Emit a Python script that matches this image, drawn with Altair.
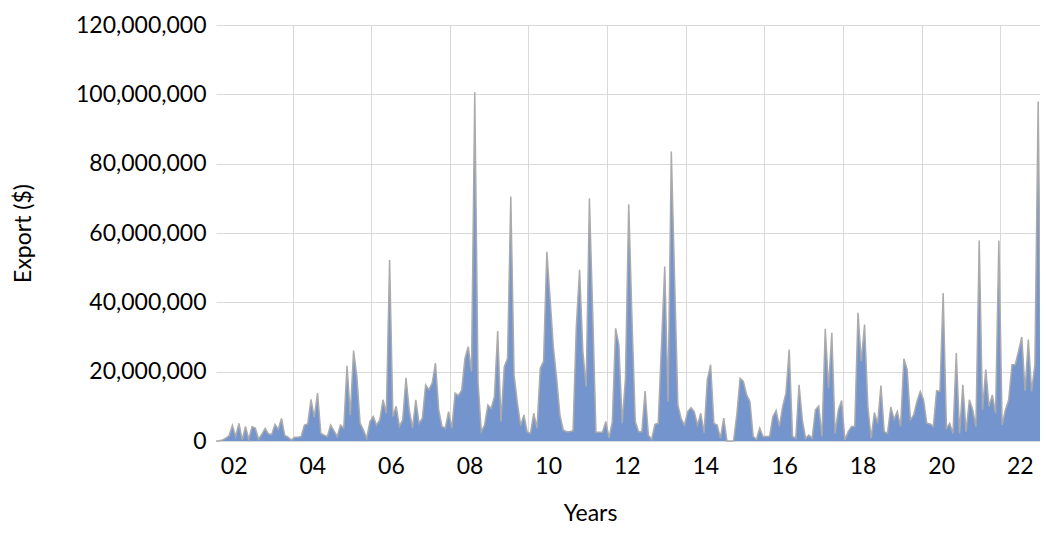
import altair as alt
import pandas as pd

# Monthly export values (millions of $), month index 0..254
export_musd = [
    0.0, 0.1, 0.3, 0.8, 1.5, 4.5, 1.3, 5.1, 0.3, 4.2, 0.5, 4.1, 3.7, 0.5, 2.0, 3.6,
    2.1, 1.9, 4.8, 3.4, 6.5, 1.6, 1.1, 0.3, 1.1, 1.1, 1.3, 4.6, 4.9, 12.0, 6.9, 13.8,
    2.2, 1.7, 1.3, 4.6, 3.0, 1.3, 4.6, 3.7, 21.7, 7.5, 26.1, 18.6, 5.1, 3.2, 0.8, 5.6,
    7.1, 4.6, 6.1, 11.9, 8.0, 52.2, 7.1, 10.0, 4.2, 6.1, 18.2, 9.0, 3.7, 11.9, 5.1, 6.6,
    16.2, 14.8, 16.7, 22.5, 9.0, 4.2, 3.7, 8.5, 3.7, 13.8, 13.1, 14.7, 23.8, 27.2, 20.0, 100.6,
    17.0, 2.7, 4.6, 10.4, 9.4, 12.8, 31.7, 5.6, 21.4, 23.8, 70.5, 19.0, 11.0, 4.5, 7.5, 2.7,
    2.2, 8.0, 3.7, 21.0, 23.0, 54.6, 41.0, 27.0, 18.0, 7.5, 3.2, 2.7, 2.7, 3.0, 33.0, 49.4,
    25.8, 15.7, 70.0, 37.0, 2.5, 2.5, 2.5, 5.6, 1.0, 5.6, 32.5, 27.7, 5.1, 18.0, 68.3, 35.0,
    5.6, 2.7, 2.7, 14.4, 1.7, 0.5, 4.8, 5.1, 27.7, 50.3, 11.4, 83.5, 47.0, 10.4, 6.5, 4.6,
    8.5, 9.6, 8.5, 4.6, 8.0, 2.4, 17.7, 22.0, 5.1, 4.6, 0.8, 6.6, 0.0, 0.0, 0.0, 7.6,
    18.1, 17.2, 13.3, 11.4, 1.3, 0.5, 3.7, 1.3, 1.3, 1.3, 7.0, 8.8, 4.2, 10.0, 13.8, 26.4,
    1.3, 0.8, 16.2, 6.1, 0.8, 1.7, 0.8, 9.0, 10.1, 1.3, 32.4, 15.3, 31.2, 2.2, 9.0, 11.7,
    0.3, 2.7, 4.2, 4.2, 37.0, 23.0, 33.6, 10.0, 0.8, 8.2, 5.1, 16.0, 2.7, 2.2, 9.8, 6.3,
    8.5, 4.2, 23.7, 20.6, 6.1, 7.5, 11.4, 14.3, 11.9, 5.1, 4.9, 4.2, 14.5, 14.3, 42.7, 3.7,
    5.1, 2.2, 25.4, 2.2, 16.2, 2.7, 11.9, 9.0, 4.2, 57.8, 9.0, 20.6, 10.0, 13.3, 8.0, 57.8,
    4.6, 9.0, 11.9, 22.0, 22.0, 25.9, 30.0, 14.5, 29.3, 14.3, 22.0, 97.9, 5.1, 25.9, 35.6,
]
month_index = list(range(len(export_musd)))

# x-axis tick labels and their positions (month index)
year_labels = ["02", "04", "06", "08", "10", "12", "14", "16", "18", "20", "22"]
label_pos = [5.4 + 24 * k for k in range(len(year_labels))]
grid_pos = [23.4 + 24 * k for k in range(10)]
y_ticks = [0, 20e6, 40e6, 60e6, 80e6, 100e6, 120e6]

df = pd.DataFrame({"t": month_index, "m": export_musd})

FONT = "Lato"
labels_js = "[" + ",".join("'" + s + "'" for s in year_labels) + "]"

x_enc = alt.X(
    "t:Q",
    scale=alt.Scale(domain=[0, len(export_musd) - 1], nice=False, zero=False),
    axis=alt.Axis(
        values=sorted(label_pos + grid_pos),
        labelExpr=f"datum.value % 24 < 12 ? {labels_js}[round((datum.value - 5.4) / 24)] : ''",
        grid=True,
        gridColor="#d9d9d9",
        gridWidth=1,
        gridOpacity={"condition": {"test": "datum.value % 24 > 12", "value": 1}, "value": 0},
        ticks=False,
        domain=False,
        labelFont=FONT,
        labelFontSize=23,
        labelColor="#000000",
        labelPadding=14,
        labelFlush=False,
        labelOverlap=False,
        title="Years",
        titleFont=FONT,
        titleFontSize=23,
        titleFontWeight="normal",
        titleColor="#000000",
        titleX=374,
        titleY=72,
        titleBaseline="middle",
    ),
)
y_enc = alt.Y(
    "v:Q",
    scale=alt.Scale(domain=[0, 120e6], nice=False),
    axis=alt.Axis(
        values=y_ticks,
        format=",d",
        grid=True,
        gridColor="#d9d9d9",
        gridWidth=1,
        ticks=False,
        domain=False,
        labelFont=FONT,
        labelFontSize=23,
        labelColor="#000000",
        labelPadding=10,
        title="Export ($)",
        titleFont=FONT,
        titleFontSize=23,
        titleFontWeight="normal",
        titleColor="#000000",
        titleX=-193,
        titleY=208,
        titleAngle=270,
        titleBaseline="middle",
        titleAlign="center",
    ),
)

base = alt.Chart(df).transform_calculate(v="datum.m * 1000000")
area = base.mark_area(color="#7494CE", opacity=1, interpolate="linear").encode(x=x_enc, y=y_enc)
line = base.mark_line(color="#ABABAB", strokeWidth=1.5, interpolate="linear").encode(x="t:Q", y="v:Q")

chart = (
    alt.layer(area, line)
    .properties(
        width=832,
        height=416,
        autosize=alt.AutoSizeParams(type="none"),
        padding={"left": 208, "top": 17, "right": -8, "bottom": 85},
        background="white",
    )
    .configure_view(stroke=None)
)

chart.save("out.html", embed_options={"renderer": "svg", "actions": False})
